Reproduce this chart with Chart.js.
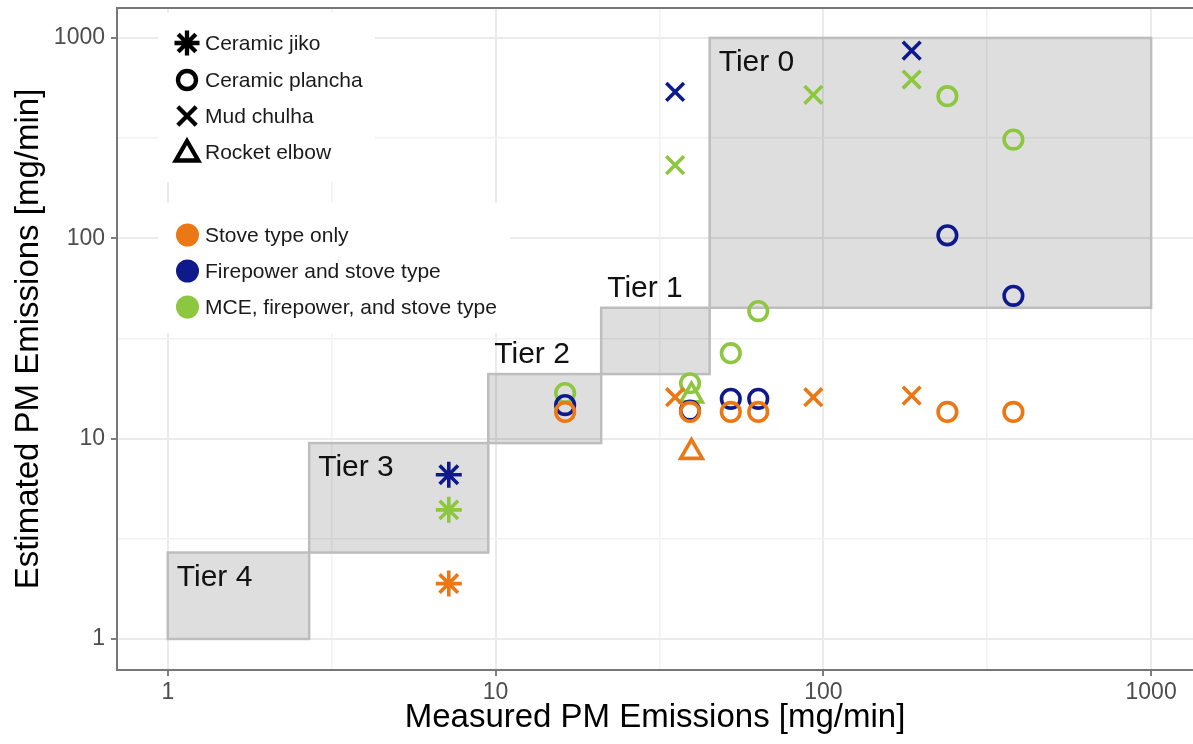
<!DOCTYPE html>
<html>
<head>
<meta charset="utf-8">
<script src="https://cdn.jsdelivr.net/npm/chart.js@4.4.1/dist/chart.umd.min.js"></script>
<style>
  html, body { margin: 0; padding: 0; background: #ffffff; overflow: hidden; }
  #wrap { width: 1193px; height: 744px; position: relative; }
</style>
</head>
<body>
<div id="wrap"><canvas id="chart" width="1193" height="744"></canvas></div>
<script>
// Stove types (marker shapes) and emission models (marker colours)
const stoveTypes = ['Ceramic jiko', 'Ceramic plancha', 'Mud chulha', 'Rocket elbow'];
const modelNames = ['Stove type only', 'Firepower and stove type', 'MCE, firepower, and stove type'];

// Measured PM emission rate of each test [mg/min]
const measuredJiko = [7.2];
const measuredPlancha = [16.3, 39.2, 52.2, 63.3, 239, 380];
const measuredChulha = [35.3, 93.2, 186];
const measuredElbow = [39.6];

// Estimated PM emission rate [mg/min] – stove type only
const jikoStoveOnly = [1.89];
const planchaStoveOnly = [13.6, 13.6, 13.6, 13.6, 13.6, 13.6];
const chulhaStoveOnly = [16.1, 16.1, 16.4];
const elbowStoveOnly = [8.56];

// Estimated – firepower and stove type
const jikoFirepower = [6.6];
const planchaFirepower = [14.7, 13.8, 15.8, 15.8, 103.5, 51.6];
const chulhaFirepower = [538, null, 865];
const elbowFirepower = [null];

// Estimated – MCE, firepower and stove type
const jikoMCE = [4.41];
const planchaMCE = [16.9, 18.9, 26.7, 43.3, 512, 311];
const chulhaMCE = [232, 520, 620];
const elbowMCE = [16.4];

// IWA performance tiers: emission rate bounds [mg/min]
const tierNames = ['Tier 0', 'Tier 1', 'Tier 2', 'Tier 3', 'Tier 4'];
const tierLower = [45, 21, 9.5, 2.7, 1];
const tierUpper = [1000, 45, 21, 9.5, 2.7];

// Axis ticks: labelled decades plus half-decade minor grid
const majorTicks = [1, 10, 100, 1000];
const minorTicks = [3.1623, 31.623, 316.23];
const tickLabels = ['1', '10', '100', '1000'];

const modelColors = ['#EC7715', '#0E1A8C', '#8DC63F'];
const stoveShapes = ['star', 'circle', 'crossRot', 'triangle'];
const shapeRadius = { star: 13, circle: 9.3, crossRot: 12.5, triangle: 12.5 };

const measured = [measuredJiko, measuredPlancha, measuredChulha, measuredElbow];
const estimated = [
  [jikoStoveOnly, planchaStoveOnly, chulhaStoveOnly, elbowStoveOnly],
  [jikoFirepower, planchaFirepower, chulhaFirepower, elbowFirepower],
  [jikoMCE, planchaMCE, chulhaMCE, elbowMCE]
];

const datasets = [];
modelNames.forEach((model, mi) => {
  stoveTypes.forEach((stove, si) => {
    const pts = [];
    measured[si].forEach((x, k) => {
      const y = estimated[mi][si][k];
      if (y != null) pts.push({ x: x, y: y });
    });
    const shape = stoveShapes[si];
    datasets.push({
      label: stove + ' / ' + model,
      data: pts,
      pointStyle: shape,
      pointRadius: shapeRadius[shape],
      pointHoverRadius: shapeRadius[shape],
      pointBorderWidth: 3.6,
      pointHoverBorderWidth: 3.6,
      borderColor: modelColors[mi],
      backgroundColor: 'rgba(0,0,0,0)',
      showLine: false
    });
  });
});

const allTicks = majorTicks.concat(minorTicks).sort((a, b) => a - b);
const isMajor = v => majorTicks.some(m => Math.abs(m - v) < 1e-9);
const FONT = "'Liberation Sans', Arial, sans-serif";

function gridOpts() {
  return {
    color: c => (c.tick && isMajor(c.tick.value)) ? '#EBEBEB' : '#F2F2F2',
    lineWidth: c => (c.tick && isMajor(c.tick.value)) ? 2 : 1.5,
    tickColor: c => (c.tick && isMajor(c.tick.value)) ? '#555555' : 'rgba(0,0,0,0)',
    tickLength: 6,
    tickWidth: 1.5,
    drawTicks: true
  };
}

function noEdgePadding(s) {
  s.paddingTop = 0; s.paddingBottom = 0; s.paddingLeft = 0; s.paddingRight = 0;
}

function pointShape(ctx, style, x, y, r, lw, color, fill) {
  ctx.save();
  ctx.strokeStyle = color;
  ctx.fillStyle = fill || 'rgba(0,0,0,0)';
  ctx.lineWidth = lw;
  Chart.helpers.drawPoint(ctx, { pointStyle: style, radius: r, rotation: 0, borderWidth: lw }, x, y);
  ctx.restore();
}

// Tier rectangles, tier names and the two in-panel legends
const panelDecor = {
  id: 'panelDecor',
  beforeDatasetsDraw(chart) {
    const { ctx, chartArea, scales } = chart;
    const xs = scales.x, ys = scales.y;
    ctx.save();
    // top edge of the panel
    ctx.strokeStyle = '#777777';
    ctx.lineWidth = 2;
    ctx.beginPath();
    ctx.moveTo(chartArea.left, chartArea.top);
    ctx.lineTo(chartArea.right, chartArea.top);
    ctx.stroke();

    // tier boxes
    tierNames.forEach((name, i) => {
      const x0 = xs.getPixelForValue(tierLower[i]);
      const x1 = xs.getPixelForValue(tierUpper[i]);
      const y0 = ys.getPixelForValue(tierLower[i]);
      const y1 = ys.getPixelForValue(tierUpper[i]);
      ctx.fillStyle = 'rgba(0,0,0,0.13)';
      ctx.fillRect(x0, y1, x1 - x0, y0 - y1);
      ctx.strokeStyle = '#BDBDBD';
      ctx.lineWidth = 2.5;
      ctx.strokeRect(x0, y1, x1 - x0, y0 - y1);
    });
    // tier names: Tier 0, 3 and 4 inside their box, Tiers 1-2 just above it
    ctx.fillStyle = '#111111';
    ctx.font = '30px ' + FONT;
    ctx.textBaseline = 'alphabetic';
    ctx.textAlign = 'left';
    tierNames.forEach((name, i) => {
      const x0 = xs.getPixelForValue(tierLower[i]);
      const yTop = ys.getPixelForValue(tierUpper[i]);
      const above = (i === 1 || i === 2);
      ctx.fillText(name, x0 + (above ? 6 : 9), above ? yTop - 11 : yTop + 33);
    });

    // legend backgrounds
    ctx.fillStyle = '#ffffff';
    ctx.fillRect(158, 13, 217, 169);
    ctx.fillRect(158, 203, 352, 130);

    ctx.font = '21px ' + FONT;
    ctx.textBaseline = 'middle';
    ctx.fillStyle = '#1a1a1a';
    const shapeRows = [43, 80, 116, 152];
    const legendR = { star: 12.5, circle: 9, crossRot: 13, triangle: 13 };
    stoveTypes.forEach((s, i) => {
      const st = stoveShapes[i];
      pointShape(ctx, st, 187, shapeRows[i] + (st === 'triangle' ? 2 : 0), legendR[st], 4.3, '#000000');
      ctx.fillStyle = '#1a1a1a';
      ctx.fillText(s, 205, shapeRows[i] + 1);
    });
    const colorRows = [235, 271, 307];
    modelNames.forEach((m, i) => {
      ctx.fillStyle = modelColors[i];
      ctx.beginPath();
      ctx.arc(187.5, colorRows[i], 11.5, 0, Math.PI * 2);
      ctx.fill();
      ctx.fillStyle = '#1a1a1a';
      ctx.fillText(m, 205, colorRows[i] + 1);
    });
    ctx.restore();
  }
};

new Chart(document.getElementById('chart'), {
  type: 'scatter',
  data: { datasets: datasets },
  options: {
    responsive: false,
    animation: false,
    devicePixelRatio: 1,
    layout: { autoPadding: false, padding: { top: 8, right: 0, bottom: 0, left: 0 } },
    plugins: { legend: { display: false }, tooltip: { enabled: false } },
    scales: {
      x: {
        type: 'logarithmic',
        min: 0.704,
        max: 1342,
        afterBuildTicks: s => { s.ticks = allTicks.map(v => ({ value: v })); },
        afterFit: s => { s.height = 74; noEdgePadding(s); },
        ticks: {
          autoSkip: false, maxRotation: 0, minRotation: 0, padding: 3,
          color: '#4D4D4D', font: { family: FONT, size: 23 },
          callback: v => { const k = majorTicks.findIndex(m => Math.abs(m - v) < 1e-9); return k >= 0 ? tickLabels[k] : ''; }
        },
        grid: gridOpts(),
        border: { display: true, color: '#777777', width: 2 },
        title: {
          display: true, text: 'Measured PM Emissions [mg/min]', color: '#000000',
          font: { family: FONT, size: 33 }, padding: { top: 0, bottom: 6 }
        }
      },
      y: {
        type: 'logarithmic',
        min: 0.7096,
        max: 1411,
        afterBuildTicks: s => { s.ticks = allTicks.map(v => ({ value: v })); },
        afterFit: s => { s.width = 117; noEdgePadding(s); },
        ticks: {
          autoSkip: false, padding: 6,
          color: '#4D4D4D', font: { family: FONT, size: 23 },
          callback: v => { const k = majorTicks.findIndex(m => Math.abs(m - v) < 1e-9); return k >= 0 ? tickLabels[k] : ''; }
        },
        grid: gridOpts(),
        border: { display: true, color: '#777777', width: 2 },
        title: {
          display: true, text: 'Estimated PM Emissions [mg/min]', color: '#000000',
          font: { family: FONT, size: 33 }, padding: { top: 9, bottom: 0 }
        }
      }
    }
  },
  plugins: [panelDecor]
});
</script>
</body>
</html>
